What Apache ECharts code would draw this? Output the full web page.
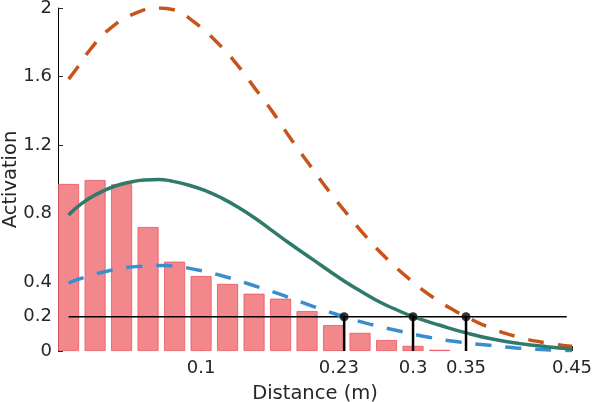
<!DOCTYPE html>
<html><head><meta charset="utf-8">
<script src="https://cdn.jsdelivr.net/npm/echarts@6/dist/echarts.min.js"></script>
<style>html,body{margin:0;padding:0;background:#fff}#c{width:592px;height:402px}</style>
</head><body><div id="c"></div>
<script>
// Histogram bars (bin centres, m) and heights
const barX = [-0.025, 0, 0.025, 0.05, 0.075, 0.1, 0.125, 0.15, 0.175, 0.2, 0.225, 0.25, 0.275, 0.3, 0.325];
const barY = [0.974, 0.997, 0.972, 0.723, 0.521, 0.437, 0.391, 0.334, 0.305, 0.233, 0.151, 0.106, 0.064, 0.030, 0.007];

// Curves: [distance, activation]
const orangeCurve = [[-0.025,1.585],[-0.017,1.65],[-0.005,1.755],[0.014,1.88],[0.04,1.975],[0.061,2.0],[0.074,1.99],[0.093,1.92],[0.115,1.80],[0.134,1.67],[0.151,1.53],[0.168,1.39],[0.185,1.234],[0.202,1.089],[0.219,0.945],[0.237,0.805],[0.255,0.671],[0.275,0.540],[0.296,0.422],[0.319,0.312],[0.343,0.222],[0.35,0.2],[0.37,0.142],[0.396,0.087],[0.425,0.048],[0.45,0.028]];
const greenCurve = [[-0.025,0.793],[-0.0125,0.861],[0.003,0.919],[0.019,0.962],[0.035,0.987],[0.047,0.997],[0.06,1.0],[0.072,0.991],[0.088,0.968],[0.104,0.935],[0.12,0.890],[0.135,0.838],[0.151,0.774],[0.167,0.702],[0.182,0.634],[0.206,0.531],[0.222,0.462],[0.2375,0.398],[0.253,0.340],[0.269,0.284],[0.285,0.239],[0.3,0.2],[0.3255,0.150],[0.351,0.104],[0.376,0.068],[0.401,0.043],[0.426,0.025],[0.45,0.012]];
const blueCurve = [[-0.025,0.395],[-0.018,0.414],[0.009,0.462],[0.038,0.492],[0.066,0.498],[0.094,0.476],[0.123,0.433],[0.151,0.379],[0.179,0.321],[0.205,0.262],[0.2295,0.210],[0.235,0.2],[0.259,0.157],[0.287,0.117],[0.315,0.080],[0.344,0.052],[0.372,0.033],[0.401,0.016],[0.43,0.006],[0.45,0.003]];

// Threshold line and crossing stems
const thresholdY = 0.2;
const thresholdX = [-0.025, 0.445];
const stemX = [0.235, 0.3, 0.35];

// Tick labels
const xTicks = [0.1, 0.23, 0.3, 0.35, 0.45];
const yTicks = [0, 0.2, 0.4, 0.8, 1.2, 1.6, 2];

const font = 'DejaVu Sans';
const txt = '#262626';
const chart = echarts.init(document.getElementById('c'), null, {renderer: 'canvas'});

const stemSeries = stemX.map(x => ({
  type: 'line', data: [[x, 0], [x, thresholdY]], showSymbol: false, symbol: 'none',
  lineStyle: {color: '#000', width: 2.5}, z: 5, silent: true
}));

const option = {
  animation: false,
  grid: {left: 58, right: 20, top: 8, bottom: 51, outerBoundsMode: 'none', containLabel: false},
  xAxis: {
    type: 'value', min: -0.035, max: 0.45,
    axisLine: {show: false, onZero: false}, splitLine: {show: false},
    axisTick: {show: true, inside: true, length: 5, customValues: xTicks, lineStyle: {color: txt}},
    axisLabel: {customValues: xTicks, fontFamily: font, fontSize: 18, color: txt, margin: 8, formatter: v => String(v)},
    name: 'Distance (m)', nameLocation: 'middle', nameGap: 33,
    nameTextStyle: {fontFamily: font, fontSize: 19.5, color: txt}
  },
  yAxis: {
    type: 'value', min: 0, max: 2,
    axisLine: {show: true, onZero: false, lineStyle: {color: '#000', width: 1}}, splitLine: {show: false},
    axisTick: {show: true, inside: true, length: 5, customValues: yTicks, lineStyle: {color: txt}},
    axisLabel: {customValues: yTicks, fontFamily: font, fontSize: 18, color: txt, margin: 6, formatter: v => String(v)},
    name: 'Activation', nameLocation: 'middle', nameGap: 37, nameMoveOverlap: false,
    nameTextStyle: {fontFamily: font, fontSize: 19.5, color: txt}
  },
  series: [
    {type: 'bar', data: barX.map((x, i) => [x, barY[i]]), barWidth: 21,
     itemStyle: {color: '#f2878c', borderColor: '#ea5560', borderWidth: 0.8}, z: 2},
    {type: 'line', data: thresholdX.map(x => [x, thresholdY]), showSymbol: false, symbol: 'none',
     lineStyle: {color: '#000', width: 1.5}, z: 3},
    {type: 'line', data: orangeCurve, smooth: true, showSymbol: false, symbol: 'none',
     lineStyle: {color: '#c9531b', width: 3.5, type: [16, 14]}, z: 4},
    {type: 'line', data: blueCurve, smooth: true, showSymbol: false, symbol: 'none',
     lineStyle: {color: '#3a8dcf', width: 3.5, type: [16, 14]}, z: 4},
    {type: 'line', data: greenCurve, smooth: true, showSymbol: false, symbol: 'none',
     lineStyle: {color: '#2e7a6b', width: 3.5}, z: 4},
    ...stemSeries,
    {type: 'scatter', data: stemX.map(x => [x, thresholdY]), symbol: 'circle', symbolSize: 9,
     itemStyle: {color: '#000'}, z: 6}
  ]
};
chart.setOption(option);
</script></body></html>
